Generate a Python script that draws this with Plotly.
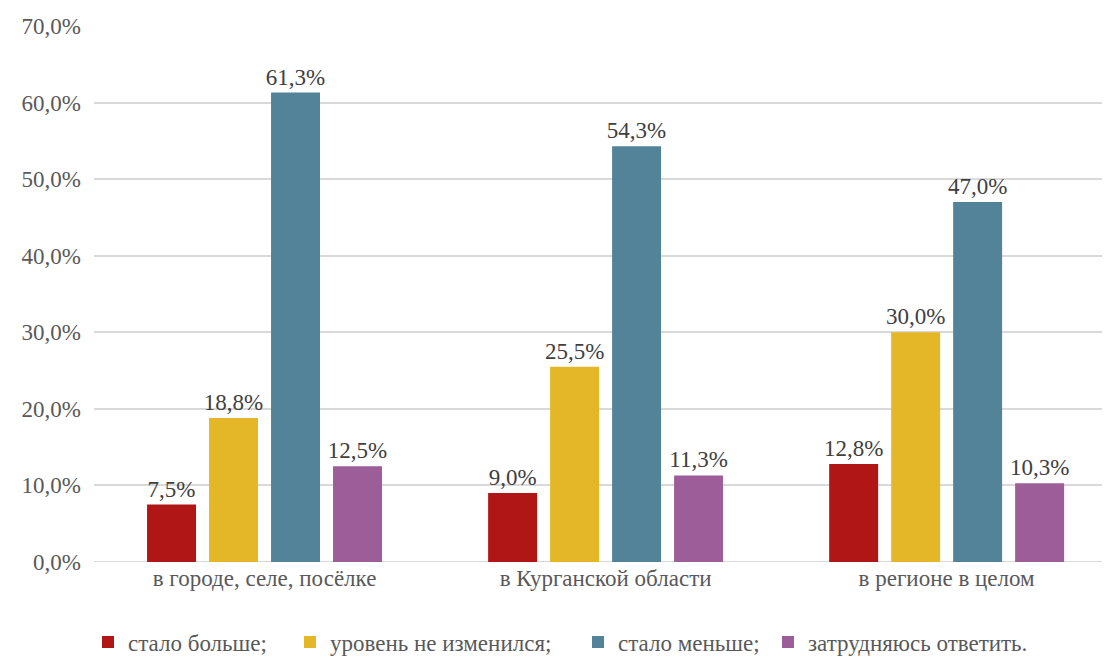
import plotly.graph_objects as go

categories = ["в городе, селе, посёлке", "в Курганской области", "в регионе в целом"]
series_names = ["стало больше;", "уровень не изменился;", "стало меньше;", "затрудняюсь ответить."]
more = [7.5, 9.0, 12.8]
same = [18.8, 25.5, 30.0]
less = [61.3, 54.3, 47.0]
unsure = [12.5, 11.3, 10.3]
colors = ["#B01616", "#E4B728", "#528399", "#9D5D99"]

font_family = "Times New Roman"
fs = 23
W, H = 1102, 649  # page body has an 8px margin
legend_ids = ["legend", "legend2", "legend3", "legend4"]
legend_left_px = [80, 282, 570, 760]

fig = go.Figure()
for name, vals, col, lid in zip(series_names, [more, same, less, unsure], colors, legend_ids):
    fig.add_trace(go.Bar(
        x=list(range(len(categories))), y=vals, name=name, legend=lid,
        marker=dict(color=col, line=dict(width=0)),
        texttemplate="%{y:.1f}%", textposition="outside", constraintext="none",
        textfont=dict(family=font_family, size=fs, color="#404040"),
        cliponaxis=False,
    ))

legend_common = dict(orientation="h", xanchor="left", xref="container", yref="container",
                     y=1 - 634 / H, yanchor="middle", bgcolor="rgba(0,0,0,0)",
                     font=dict(family=font_family, size=fs, color="#595959"), itemwidth=30)
legends = {lid: dict(legend_common, x=px / W) for lid, px in zip(legend_ids, legend_left_px)}

fig.update_layout(
    width=W, height=H,
    margin=dict(l=86, r=0, t=18, b=95),
    paper_bgcolor="white", plot_bgcolor="white",
    separators=", ",
    barmode="group", bargap=0.273, bargroupgap=0.21,
    font=dict(family=font_family, size=fs, color="#595959"),
    showlegend=True,
    xaxis=dict(tickmode="array", tickvals=list(range(len(categories))), ticktext=categories,
               range=[-0.5, 2.479], showgrid=False, zeroline=False, showline=False,
               ticks="", automargin=False,
               tickfont=dict(family=font_family, size=fs, color="#595959")),
    yaxis=dict(range=[0, 70], dtick=10, tickformat=".1f", ticksuffix="%",
               showgrid=True, gridcolor="#D9D9D9", gridwidth=1.5, zeroline=False,
               showline=False, ticks="", ticklabelstandoff=12, automargin=False,
               tickfont=dict(family=font_family, size=fs, color="#595959")),
    **legends,
)
fig.add_hline(y=0, line=dict(color="#D9D9D9", width=2), layer="below")

fig.write_html("out.html")
